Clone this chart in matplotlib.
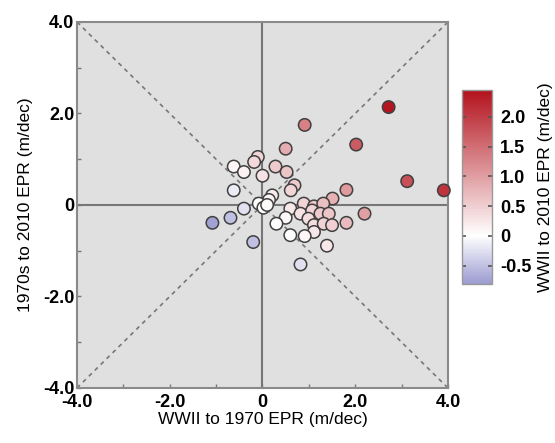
import numpy as np
import matplotlib
matplotlib.use("Agg")
import matplotlib.pyplot as plt
from matplotlib.colors import LinearSegmentedColormap, Normalize

plt.rcParams['font.family'] = ['Liberation Sans', 'DejaVu Sans']

# WWII to 1970 EPR (m/dec)
x_epr = [0.91, 2.02, 2.72, 3.12, 3.91, 0.50, -0.10, -0.18, -0.62, -0.40,
         0.28, 0.52, 0.00, 0.69, 0.61, 1.81, -0.62, 0.21, 0.14, -0.08,
         0.02, -0.40, 1.51, 2.20, 0.89, 1.11, 1.31, 0.60, 0.82, 1.07,
         1.25, 1.43, 0.99, 0.50, 0.30, 1.11, 1.32, 1.50, 1.81, 1.11,
         0.60, 0.91, 1.39, 0.82, -1.08, -0.69, -0.20, 0.10]
# 1970s to 2010 EPR (m/dec)
y_epr = [1.75, 1.32, 2.14, 0.52, 0.32, 1.23, 1.05, 0.94, 0.84, 0.72,
         0.84, 0.72, 0.64, 0.43, 0.32, 0.33, 0.32, 0.21, 0.11, 0.03,
         -0.06, -0.08, 0.14, -0.19, 0.03, -0.03, 0.03, -0.08, -0.19, -0.12,
         -0.19, -0.19, -0.30, -0.28, -0.41, -0.44, -0.41, -0.44, -0.39, -0.59,
         -0.66, -0.68, -0.89, -1.30, -0.39, -0.28, -0.81, 0.00]
# WWII to 2010 EPR (m/dec)
c_epr = [1.30, 1.70, 2.40, 1.80, 2.10, 0.85, 0.45, 0.40, 0.10, 0.15,
         0.55, 0.60, 0.30, 0.55, 0.45, 1.05, -0.15, 0.20, 0.12, 0.00,
         0.00, -0.25, 0.80, 1.00, 0.45, 0.55, 0.65, 0.25, 0.30, 0.45,
         0.55, 0.60, 0.35, 0.10, 0.00, 0.35, 0.45, 0.50, 0.70, 0.25,
         0.00, 0.10, 0.25, -0.25, -0.75, -0.50, -0.50, 0.05]

axis_ticks = [-4, -2, 0, 2, 4]
axis_labels = ['-4.0', '-2.0', '0', '2.0', '4.0']
cb_ticks = [-0.5, 0, 0.5, 1.0, 1.5, 2.0]
cb_labels = ['-0.5', '0', '0.5', '1.0', '1.5', '2.0']

vmin, vmax = -0.8, 2.45
w = (0 - vmin) / (vmax - vmin)
cmap = LinearSegmentedColormap.from_list(
    'epr', [(0, '#9c9cd2'), (w, '#ffffff'), (1, '#b3121c')])
norm = Normalize(vmin=vmin, vmax=vmax)

fig = plt.figure(figsize=(5.55, 4.43), dpi=100)
ax = fig.add_axes([0.1387, 0.1242, 0.6685, 0.8262])
ax.set_facecolor('#e0e0e0')

line_col = '#777777'
ax.axhline(0, color=line_col, lw=1.5, zorder=1)
ax.axvline(0, color=line_col, lw=1.5, zorder=1)
ax.plot([-4, 4], [-4, 4], ls=(0, (2.5, 2.5)), color=line_col, lw=1.2, zorder=1)
ax.plot([-4, 4], [4, -4], ls=(0, (2.5, 2.5)), color=line_col, lw=1.2, zorder=1)

ax.scatter(x_epr, y_epr, c=c_epr, cmap=cmap, norm=norm, s=80,
           edgecolors='#404040', linewidths=1.1, zorder=3, clip_on=False)

ax.set_xlim(-4, 4)
ax.set_ylim(-4, 4)
ax.set_xticks(axis_ticks)
ax.set_xticklabels(axis_labels)
ax.set_yticks(axis_ticks)
ax.set_yticklabels(axis_labels)
ax.set_xticks(np.arange(-3, 4, 2), minor=True)
ax.set_yticks(np.arange(-3, 4, 2), minor=True)
ax.tick_params(which='both', direction='in', length=3, width=1, color='#777777')
ax.tick_params(which='major', labelsize=13)
ax.tick_params(axis='x', which='major', pad=4)
ax.tick_params(axis='y', which='major', pad=2)
for lab in ax.get_xticklabels() + ax.get_yticklabels():
    lab.set_fontweight('bold')
for sp in ax.spines.values():
    sp.set_color('#8a8a8a')
    sp.set_linewidth(1.5)

ax.set_xlabel('WWII to 1970 EPR (m/dec)', fontsize=12.5, labelpad=1)
ax.set_ylabel('1970s to 2010 EPR (m/dec)', fontsize=12.5, labelpad=7)

cax = fig.add_axes([0.832, 0.36, 0.054, 0.437])
sm = plt.cm.ScalarMappable(cmap=cmap, norm=norm)
cb = fig.colorbar(sm, cax=cax)
cb.set_ticks(cb_ticks)
cb.set_ticklabels(cb_labels)
cb.outline.set_edgecolor('#999999')
cb.outline.set_linewidth(1.0)
cax.tick_params(direction='in', length=3, width=1.2, color='#555555',
                labelsize=13, left=True, pad=6)
for lab in cax.get_yticklabels():
    lab.set_fontweight('bold')
cb.set_label('WWII to 2010 EPR (m/dec)', fontsize=12.5, labelpad=5)

fig.savefig('out.png', dpi=100)
